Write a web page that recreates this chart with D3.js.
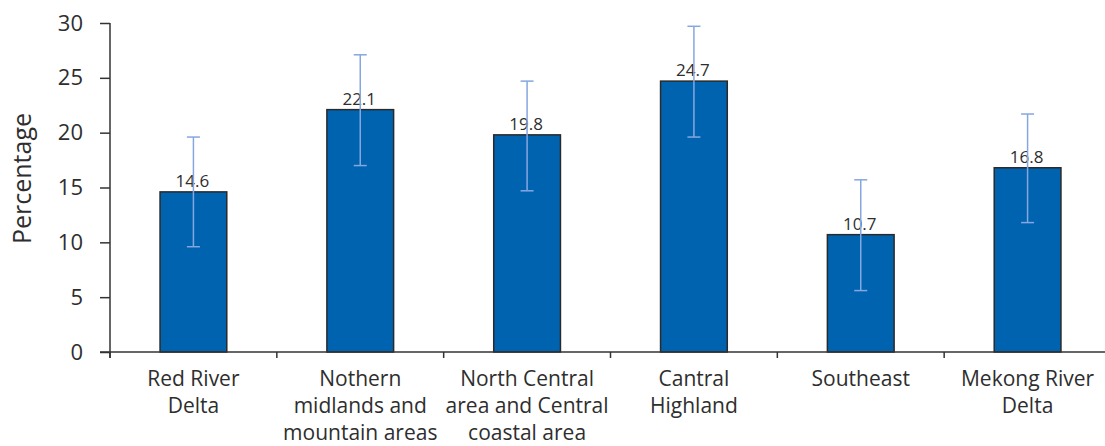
<!DOCTYPE html>
<html>
<head>
<meta charset="utf-8">
<script src="https://cdn.jsdelivr.net/npm/d3@7"></script>
<style>
  html, body { margin: 0; padding: 0; background: #fff; }
  svg { display: block; font-family: "Open Sans", sans-serif; }
</style>
</head>
<body>
<svg id="chart" width="1105" height="446"></svg>
<script>
// Regional prevalence (%) with 95% confidence bounds
const regions = [
  ["Red River", "Delta"],
  ["Nothern", "midlands and", "mountain areas"],
  ["North Central", "area and Central", "coastal area"],
  ["Cantral", "Highland"],
  ["Southeast"],
  ["Mekong River", "Delta"]
];
const values = [14.6, 22.1, 19.8, 24.7, 10.7, 16.8];
const lowerCI = [9.6, 17.0, 14.7, 19.6, 5.6, 11.8];
const upperCI = [19.6, 27.1, 24.7, 29.7, 15.7, 21.7];
const yTicks = [0, 5, 10, 15, 20, 25, 30];

const svg = d3.select("#chart");
const axisColor = "#333";
const textColor = "#2e2e2e";

const x = d3.scaleBand()
  .domain(d3.range(values.length))
  .range([110, 1111])
  .paddingInner(0.6)
  .paddingOuter(0.3);

const y = d3.scaleLinear().domain([0, 30]).range([352, 23]);

// Y axis
const yAxis = svg.append("g")
  .attr("transform", "translate(110,0)")
  .call(d3.axisLeft(y).tickValues(yTicks).tickSize(10).tickPadding(17));
yAxis.select(".domain").remove();
yAxis.selectAll(".tick line").attr("stroke", axisColor).attr("stroke-width", 1.5);
yAxis.selectAll(".tick text")
  .attr("fill", textColor)
  .style("font-family", "'Open Sans', sans-serif")
  .style("font-size", "22px");

svg.append("line")
  .attr("x1", 110).attr("x2", 110)
  .attr("y1", y(30)).attr("y2", y(0) + 6)
  .attr("stroke", axisColor).attr("stroke-width", 1.5);

// Y title
svg.append("text")
  .attr("transform", `translate(31,${(y(0) + y(30)) / 2 - 9}) rotate(-90)`)
  .attr("text-anchor", "middle")
  .attr("fill", textColor)
  .style("font-size", "25px")
  .text("Percentage");

// Bars
svg.append("g").selectAll("rect")
  .data(values)
  .join("rect")
  .attr("x", (d, i) => x(i))
  .attr("y", d => y(d))
  .attr("width", x.bandwidth())
  .attr("height", d => y(0) - y(d))
  .attr("fill", "#0063b0")
  .attr("stroke", "#2a2a2a")
  .attr("stroke-width", 1.5);

// X axis baseline and category separators
svg.append("line")
  .attr("x1", 100).attr("x2", 1105)
  .attr("y1", y(0)).attr("y2", y(0))
  .attr("stroke", axisColor).attr("stroke-width", 1.5);

const step = x.step();
svg.append("g").selectAll("line")
  .data(d3.range(values.length))
  .join("line")
  .attr("x1", i => x.range()[0] + i * step)
  .attr("x2", i => x.range()[0] + i * step)
  .attr("y1", y(0)).attr("y2", y(0) + 6)
  .attr("stroke", axisColor).attr("stroke-width", 1.5);

// Value labels
svg.append("g").selectAll("text")
  .data(values)
  .join("text")
  .attr("x", (d, i) => x(i) + x.bandwidth() / 2 - 1)
  .attr("y", d => y(d) - 5)
  .attr("text-anchor", "middle")
  .attr("fill", textColor)
  .style("font-size", "17px")
  .text(d => d.toFixed(1));

// Error bars
const errColor = "#86a6e0";
const cap = 6.5;
const eb = svg.append("g").attr("stroke", errColor).attr("stroke-width", 1.5);
values.forEach((v, i) => {
  const cx = x(i) + x.bandwidth() / 2;
  eb.append("line").attr("x1", cx).attr("x2", cx).attr("y1", y(upperCI[i])).attr("y2", y(lowerCI[i]));
  eb.append("line").attr("x1", cx - cap).attr("x2", cx + cap).attr("y1", y(upperCI[i])).attr("y2", y(upperCI[i]));
  eb.append("line").attr("x1", cx - cap).attr("x2", cx + cap).attr("y1", y(lowerCI[i])).attr("y2", y(lowerCI[i]));
});

// Category labels
const lab = svg.append("g");
regions.forEach((lines, i) => {
  const t = lab.append("text")
    .attr("x", x(i) + x.bandwidth() / 2)
    .attr("y", 386)
    .attr("text-anchor", "middle")
    .attr("fill", textColor)
    .style("font-size", "21px");
  lines.forEach((s, k) => {
    t.append("tspan")
      .attr("x", x(i) + x.bandwidth() / 2)
      .attr("dy", k === 0 ? 0 : 27)
      .text(s);
  });
});
</script>
</body>
</html>
